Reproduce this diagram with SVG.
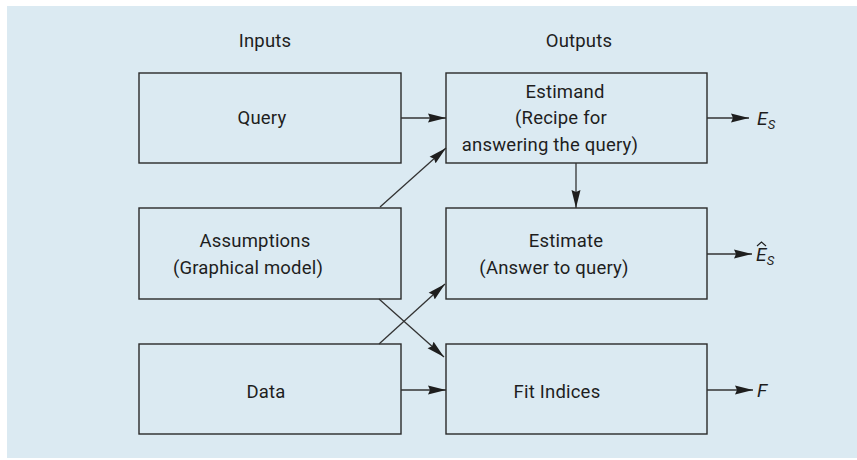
<svg xmlns="http://www.w3.org/2000/svg" width="857" height="460" viewBox="0 0 857 460">
  <defs>
    <marker id="arrow" viewBox="0 0 18 10" refX="18" refY="5" markerWidth="18" markerHeight="10" markerUnits="userSpaceOnUse" orient="auto">
      <path d="M0,0.5 L18,5 L0,9.5 L2,5 Z" fill="#1e1e1e"/>
    </marker>
    <style>
      .box { fill: none; stroke: #2a2a2a; stroke-width: 1.4; }
      .edge { fill: none; stroke: #333; stroke-width: 1.3; marker-end: url(#arrow); }
      text { font-family: Roboto, "Liberation Sans", Arial, sans-serif; font-size: 18.5px; letter-spacing: 0.2px; fill: #1e1e1e; text-anchor: middle; }
      .sym { font-style: italic; text-anchor: start; font-size: 19px; }
      .sub { font-style: italic; font-size: 13px; }
    </style>
  </defs>

  <!-- panel background -->
  <rect x="7" y="6" width="850" height="452" fill="#dbeaf2"/>

  <!-- column headings -->
  <text x="265" y="47">Inputs</text>
  <text x="579" y="47">Outputs</text>

  <!-- input nodes -->
  <g id="query">
    <rect class="box" x="139" y="73" width="262" height="90"/>
    <text x="262" y="124">Query</text>
  </g>
  <g id="assumptions">
    <rect class="box" x="139" y="208" width="262" height="91"/>
    <text x="255" y="247">Assumptions</text>
    <text x="248" y="274">(Graphical model)</text>
  </g>
  <g id="data">
    <rect class="box" x="139" y="344" width="262" height="90"/>
    <text x="266" y="398">Data</text>
  </g>

  <!-- output nodes -->
  <g id="estimand">
    <rect class="box" x="446" y="73" width="261" height="90"/>
    <text x="565" y="98">Estimand</text>
    <text x="561" y="124">(Recipe for</text>
    <text x="550" y="151">answering the query)</text>
  </g>
  <g id="estimate">
    <rect class="box" x="446" y="208" width="261" height="91"/>
    <text x="566" y="247">Estimate</text>
    <text x="554" y="274">(Answer to query)</text>
  </g>
  <g id="fit-indices">
    <rect class="box" x="446" y="344" width="261" height="90"/>
    <text x="557" y="398">Fit Indices</text>
  </g>

  <!-- result symbols -->
  <g id="es">
    <text class="sym" x="757" y="125">E<tspan class="sub" dy="4">S</tspan></text>
  </g>
  <g id="es-hat">
    <text class="sym" x="756" y="261">E<tspan class="sub" dy="4">S</tspan></text>
    <path d="M757,246 L761.5,242 L766,246" fill="none" stroke="#1e1e1e" stroke-width="1.1"/>
  </g>
  <g id="f">
    <text class="sym" x="757" y="397">F</text>
  </g>

  <!-- connectors -->
  <g id="connectors">
    <line class="edge" x1="401" y1="118" x2="446" y2="118"/>
    <line class="edge" x1="380" y1="207" x2="446" y2="148"/>
    <line class="edge" x1="576" y1="163" x2="576" y2="208"/>
    <line class="edge" x1="379" y1="299" x2="444" y2="357"/>
    <line class="edge" x1="379" y1="344" x2="445" y2="284"/>
    <line class="edge" x1="401" y1="390" x2="446" y2="390"/>
    <line class="edge" x1="707" y1="118" x2="749" y2="118"/>
    <line class="edge" x1="707" y1="254" x2="752" y2="254"/>
    <line class="edge" x1="707" y1="390" x2="753" y2="390"/>
  </g>
</svg>
